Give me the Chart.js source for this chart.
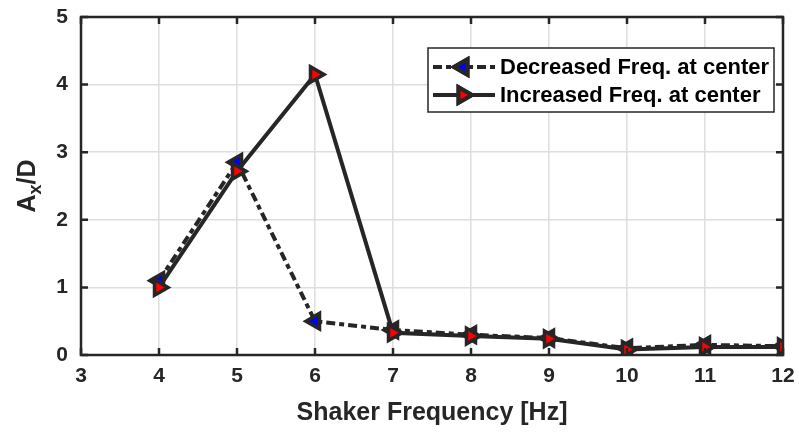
<!DOCTYPE html>
<html>
<head>
<meta charset="utf-8">
<style>
  html, body { margin: 0; padding: 0; background: #fff; }
  #wrap { width: 799px; height: 432px; }
</style>
<script src="https://cdn.jsdelivr.net/npm/chart.js@4/dist/chart.umd.min.js"></script>
</head>
<body>
<div id="wrap"><canvas id="c" width="799" height="432"></canvas></div>
<script>
// values
const freqs = [4, 5, 6, 7, 8, 9, 10, 11, 12];
const decreased = [1.10, 2.85, 0.50, 0.37, 0.30, 0.25, 0.10, 0.15, 0.13];
const increased = [1.00, 2.72, 4.15, 0.33, 0.28, 0.24, 0.08, 0.12, 0.12];
const xTicks = [3, 4, 5, 6, 7, 8, 9, 10, 11, 12];
const yTicks = [0, 1, 2, 3, 4, 5];
const seriesNames = ['Decreased Freq. at center', 'Increased Freq. at center'];

const FONT = '"Liberation Sans", Arial, sans-serif';
const INK = '#262626';

function pts(ys) {
  return freqs.map((f, i) => ({ x: f, y: ys[i] }));
}

// frame, inward ticks, y title with subscript, legend box
const extras = {
  id: 'extras',
  afterDraw(chart) {
    const ctx = chart.ctx;
    const a = chart.chartArea;
    const xs = chart.scales.x, ys = chart.scales.y;
    ctx.save();
    ctx.strokeStyle = INK;
    ctx.lineWidth = 2.5;
    ctx.strokeRect(a.left, a.top, a.right - a.left, a.bottom - a.top);
    ctx.beginPath();
    xTicks.forEach(v => {
      const px = xs.getPixelForValue(v);
      ctx.moveTo(px, a.bottom); ctx.lineTo(px, a.bottom - 7);
      ctx.moveTo(px, a.top); ctx.lineTo(px, a.top + 7);
    });
    yTicks.forEach(v => {
      const py = ys.getPixelForValue(v);
      ctx.moveTo(a.left, py); ctx.lineTo(a.left + 7, py);
      ctx.moveTo(a.right, py); ctx.lineTo(a.right - 7, py);
    });
    ctx.stroke();

    // y axis title A_x/D
    ctx.save();
    ctx.translate(35, 186);
    ctx.rotate(-Math.PI / 2);
    ctx.fillStyle = INK;
    ctx.textBaseline = 'alphabetic';
    const big = 'bold 25px ' + FONT, small = 'bold 18px ' + FONT;
    ctx.font = big; const wA = ctx.measureText('A').width; const wD = ctx.measureText('/D').width;
    ctx.font = small; const wx = ctx.measureText('x').width;
    let x0 = -(wA + wx + wD) / 2;
    ctx.font = big; ctx.fillText('A', x0, 0);
    ctx.font = small; ctx.fillText('x', x0 + wA, 6);
    ctx.font = big; ctx.fillText('/D', x0 + wA + wx, 0);
    ctx.restore();

    // legend
    const lx = 428, ly = 48, lw = 346, lh = 64;
    ctx.fillStyle = '#fff';
    ctx.fillRect(lx, ly, lw, lh);
    ctx.strokeStyle = INK;
    ctx.lineWidth = 1.5;
    ctx.strokeRect(lx, ly, lw, lh);
    chart.data.datasets.forEach((ds, i) => {
      const cy = ly + 19 + i * 28;
      ctx.strokeStyle = INK;
      ctx.lineWidth = 4;
      ctx.setLineDash(ds.borderDash || []);
      ctx.beginPath();
      ctx.moveTo(lx + 5, cy); ctx.lineTo(lx + 67, cy);
      ctx.stroke();
      ctx.setLineDash([]);
      Chart.helpers.drawPoint(ctx, {
        pointStyle: 'triangle', rotation: ds.pointRotation, radius: 9,
        borderWidth: 3
      }, lx + 35, cy);
      ctx.fillStyle = ds.pointBackgroundColor;
      ctx.strokeStyle = INK;
      ctx.fill(); ctx.stroke();
      ctx.fillStyle = '#000';
      ctx.font = 'bold 22px ' + FONT;
      ctx.textBaseline = 'middle';
      ctx.textAlign = 'left';
      ctx.fillText(ds.label, lx + 72, cy + 1);
    });
    ctx.restore();
  }
};

new Chart(document.getElementById('c'), {
  type: 'line',
  data: {
    datasets: [
      {
        label: seriesNames[0],
        data: pts(decreased),
        borderColor: INK,
        borderWidth: 4,
        borderDash: [9, 4, 5, 4],
        pointStyle: 'triangle',
        pointRotation: -90,
        pointRadius: 9,
        pointBorderWidth: 3.5,
        pointBorderColor: INK,
        pointBackgroundColor: '#0000ff',
        order: 2
      },
      {
        label: seriesNames[1],
        data: pts(increased),
        borderColor: INK,
        borderWidth: 4,
        pointStyle: 'triangle',
        pointRotation: 90,
        pointRadius: 9,
        pointBorderWidth: 3.5,
        pointBorderColor: INK,
        pointBackgroundColor: '#ff0000',
        order: 1
      }
    ]
  },
  options: {
    responsive: false,
    animation: false,
    layout: { padding: { top: 17, right: 16, left: 0, bottom: 0 } },
    plugins: { legend: { display: false }, tooltip: { enabled: false } },
    scales: {
      x: {
        type: 'linear', min: 3, max: 12,
        afterBuildTicks: s => { s.ticks = xTicks.map(v => ({ value: v })); },
        afterFit: s => { s.height = 77; s.paddingLeft = 0; s.paddingRight = 0; },
        grid: { color: '#dedede', lineWidth: 1.5, drawTicks: false },
        border: { display: false },
        ticks: { color: INK, padding: 9, font: { family: FONT, size: 21, weight: 'bold' } },
        title: { display: true, text: 'Shaker Frequency [Hz]', color: INK, padding: { top: 4 },
                 font: { family: FONT, size: 25, weight: 'bold' } }
      },
      y: {
        min: 0, max: 5,
        afterBuildTicks: s => { s.ticks = yTicks.map(v => ({ value: v })); },
        afterFit: s => { s.width = 81; s.paddingTop = 0; s.paddingBottom = 0; },
        grid: { color: '#dedede', lineWidth: 1.5, drawTicks: false },
        border: { display: false },
        ticks: { color: INK, padding: 13, font: { family: FONT, size: 21, weight: 'bold' } }
      }
    }
  },
  plugins: [extras]
});
</script>
</body>
</html>
